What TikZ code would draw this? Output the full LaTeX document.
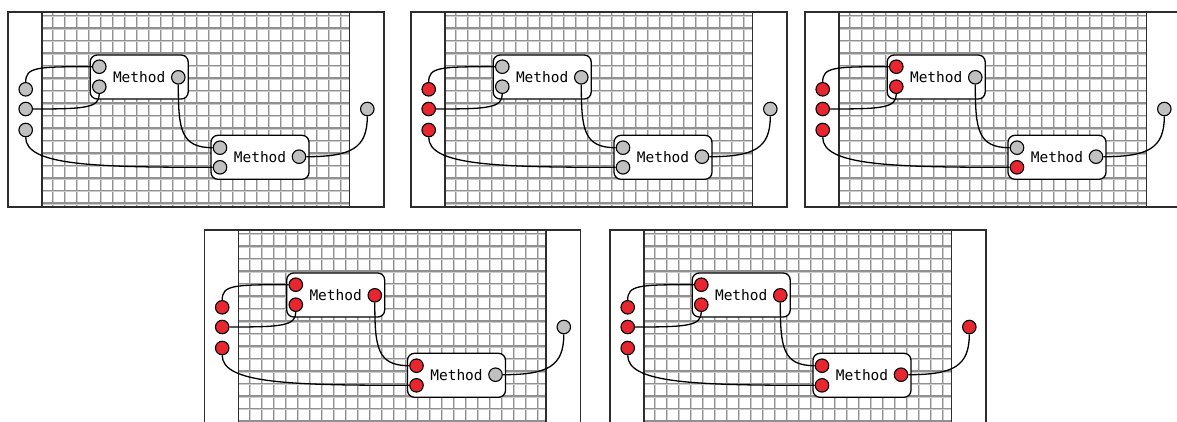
\documentclass[tikz,border=0pt]{standalone}
\usepackage{fontspec}
\newfontfamily\codefont{DejaVu Sans Mono}
\definecolor{portgray}{RGB}{192,192,192}
\definecolor{portred}{RGB}{232,38,48}
\definecolor{griddark}{RGB}{145,145,145}
\definecolor{gridlight}{RGB}{205,205,205}
\definecolor{frameline}{RGB}{45,45,45}
\tikzset{
  port/.style={circle, draw=black, line width=1.1pt, minimum size=13.5pt, inner sep=0pt},
  methodbox/.style={draw=black, fill=white, rounded corners=7pt, line width=1.3pt,
    minimum width=98pt, minimum height=44pt, inner sep=0pt,
    font=\codefont\fontsize{14.5}{16}\selectfont},
  wire/.style={black, line width=1.3pt},
  gridA/.style={griddark, line width=1.1pt},
  gridB/.style={gridlight, line width=1pt},
  panelframe/.style={frameline, line width=1.3pt},
  canvasedge/.style={frameline, line width=1.6pt},
}
% One panel of the method graph; #1,#2 = top-left corner,
% #3 inputs, #4 first method inputs, #5 first method output,
% #6 second method upper input, #7 second method lower input,
% #8 second method output, #9 final output
\newcommand\methodpanel[9]{%
  \begin{scope}[shift={(#1,#2)}]
    % grid canvas between the two edge lines
    \begin{scope}
      \clip (34,0) rectangle (341.5,195);
      \foreach \k in {-1,...,25} {
        \draw[gridA] (44.7+12*\k,0) -- ++(0,195);
        \draw[gridB] (45.9+12*\k,0) -- ++(0,195);
      }
      \foreach \k in {0,...,15} {
        \draw[gridA] (34,3.5+12.5*\k) -- ++(310,0);
        \draw[gridB] (34,4.7+12.5*\k) -- ++(310,0);
      }
    \end{scope}
    \draw[canvasedge] (34,0) -- (34,195);
    \draw[canvasedge] (341.5,0) -- (341.5,195);
    \draw[panelframe] (0,0) rectangle (376,195);
    % method boxes
    \node[methodbox] (m1) at (131.2,65) {Method};
    \node[methodbox] (m2) at (252,145.3) {Method};
    % ports
    \node[port, fill=#3] (c1) at (17.7,77.3) {};
    \node[port, fill=#3] (c2) at (17.7,97) {};
    \node[port, fill=#3] (c3) at (17.7,118) {};
    \node[port, fill=#4] (p1) at (91.3,54.7) {};
    \node[port, fill=#4] (p2) at (91.3,74.7) {};
    \node[port, fill=#5] (p3) at (170.3,65.3) {};
    \node[port, fill=#6] (q1) at (212,135.7) {};
    \node[port, fill=#7] (q2) at (212,155.3) {};
    \node[port, fill=#8] (q3) at (291,144.7) {};
    \node[port, fill=#9] (r) at (359.3,97) {};
    % connections
    \draw[wire] (c1.north) .. controls +(0,-15) and +(-55,0) .. (p1.west);
    \draw[wire] (c2.east) .. controls +(52,0) and +(0,14) .. (p2.south);
    \draw[wire] (c3.south) .. controls +(0,28) and +(-120,0) .. (q2.west);
    \draw[wire] (p3.south) .. controls +(0,45) and +(-32,0) .. (q1.west);
    \draw[wire] (q3.east) .. controls +(45,0) and +(0,32) .. (r.south);
  \end{scope}%
}
\begin{document}
\begin{tikzpicture}[x=1pt,y=-1pt]
  \useasboundingbox (0,0) rectangle (1177,421);
  \fill[white] (0,0) rectangle (1177,421);
  \clip (0,0) rectangle (1177,421);
  \methodpanel{8}{12}{portgray}{portgray}{portgray}{portgray}{portgray}{portgray}{portgray}
  \methodpanel{411}{12}{portred}{portgray}{portgray}{portgray}{portgray}{portgray}{portgray}
  \methodpanel{805}{12}{portred}{portred}{portgray}{portgray}{portred}{portgray}{portgray}
  \methodpanel{204.5}{230}{portred}{portred}{portred}{portred}{portred}{portgray}{portgray}
  \methodpanel{610}{230}{portred}{portred}{portred}{portred}{portred}{portred}{portred}
\end{tikzpicture}
\end{document}
